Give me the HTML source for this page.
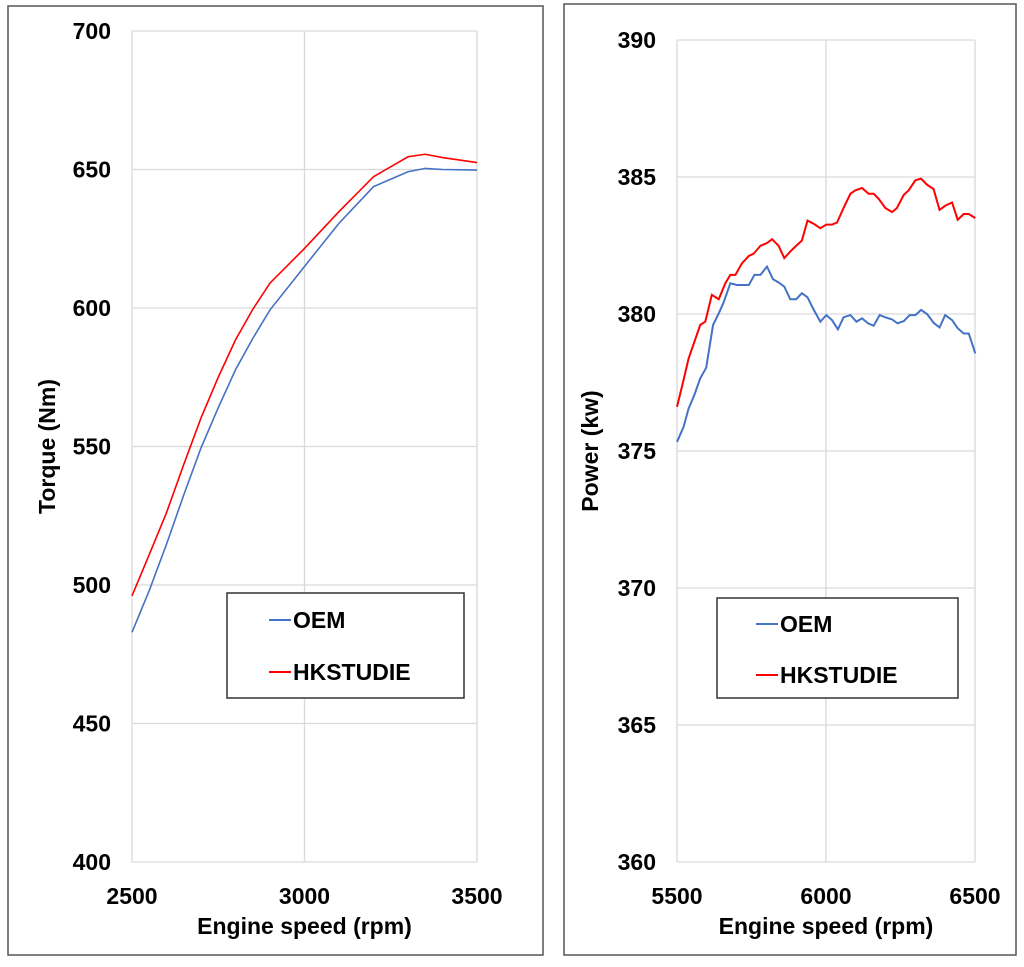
<!DOCTYPE html>
<html><head><meta charset="utf-8"><style>
body{margin:0;background:#fff;width:1024px;height:962px;overflow:hidden}
svg text{font-family:"Liberation Sans",Arial,sans-serif;font-weight:bold;fill:#000}
</style></head><body>
<svg id="c" width="1024" height="962" viewBox="0 0 1024 962" xmlns="http://www.w3.org/2000/svg">
<rect x="8" y="6" width="535" height="949" fill="#fff" stroke="#555" stroke-width="1.5"/>
<rect x="564" y="4" width="452" height="951" fill="#fff" stroke="#555" stroke-width="1.5"/>
<g id="left"></g><g id="right"></g>
</svg>
<script>
const torqueRpm=[2500,2550,2600,2650,2700,2750,2800,2850,2900,3000,3100,3200,3300,3350,3400,3500];
const torqueOEM=[482.9,498,514.7,532.5,549.5,564,577.7,589,599.3,615,630.6,643.8,649.2,650.4,650,649.8];
const torqueHK=[496.1,511,526.1,543.5,560.3,575,588.5,599.5,609,621.5,634.8,647.4,654.6,655.5,654.3,652.5];
const torqueYTicks=[400,450,500,550,600,650,700];
const torqueXTicks=[2500,3000,3500];
const powerRpm=[5500,5522,5539,5558,5578,5598,5621,5640,5656,5679,5701,5741,5760,5780,5802,5822,5841,5860,5880,5900,5919,5938,5959,5981,6001,6020,6040,6059,6082,6102,6121,6141,6160,6180,6199,6222,6240,6261,6281,6300,6319,6339,6361,6381,6400,6423,6442,6462,6479,6501];
const powerOEM=[375.33,375.88,376.55,377.04,377.65,378.04,379.6,380.02,380.41,381.12,381.06,381.06,381.43,381.43,381.73,381.27,381.15,381.0,380.54,380.54,380.76,380.61,380.15,379.72,379.96,379.78,379.44,379.88,379.96,379.72,379.84,379.66,379.57,379.96,379.88,379.8,379.66,379.74,379.96,379.96,380.15,380.0,379.68,379.51,379.96,379.78,379.48,379.29,379.29,378.56];
const powerHKRpm=[5500,5522,5539,5578,5595,5617,5640,5662,5679,5696,5718,5741,5757,5780,5802,5819,5841,5860,5880,5897,5919,5938,5959,5981,6001,6020,6037,6059,6082,6098,6121,6143,6160,6177,6199,6222,6238,6261,6277,6300,6319,6339,6361,6381,6400,6423,6442,6462,6479,6501];
const powerHK=[376.61,377.59,378.38,379.6,379.72,380.7,380.54,381.12,381.43,381.43,381.85,382.12,382.2,382.49,382.59,382.73,382.49,382.04,382.28,382.46,382.68,383.41,383.29,383.13,383.26,383.26,383.34,383.87,384.39,384.51,384.6,384.39,384.39,384.2,383.87,383.72,383.87,384.35,384.51,384.88,384.94,384.72,384.56,383.8,383.95,384.07,383.44,383.65,383.65,383.5];
const powerYTicks=[360,365,370,375,380,385,390];
const powerXTicks=[5500,6000,6500];
const NS='http://www.w3.org/2000/svg';
function mk(p,tag,a,name){const e=document.createElementNS(NS,tag);for(const k in a)e.setAttribute(k,a[k]);


p.appendChild(e);return e;}
function chart(g,o){
 const sx=v=>o.x0+(v-o.xmin)/(o.xmax-o.xmin)*(o.x1-o.x0);
 const sy=v=>o.y1-(v-o.ymin)/(o.ymax-o.ymin)*(o.y1-o.y0);
 o.yt.forEach(t=>{mk(g,'line',{x1:o.x0,x2:o.x1,y1:sy(t),y2:sy(t),stroke:'#d9d9d9','stroke-width':1.3},'y-gridline');
  const tx=mk(g,'text',{x:o.ylx,y:sy(t)+8,'text-anchor':'end','font-size':23},'y-tick-label');tx.textContent=t;});
 o.xt.forEach(t=>{mk(g,'line',{x1:sx(t),x2:sx(t),y1:o.y0,y2:o.y1,stroke:'#d9d9d9','stroke-width':1.3},'x-gridline');
  const tx=mk(g,'text',{x:sx(t),y:o.y1+42,'text-anchor':'middle','font-size':23},'x-tick-label');tx.textContent=t;});
 o.series.forEach(s=>{mk(g,'polyline',{points:s.x.map((v,i)=>sx(v)+','+sy(s.y[i])).join(' '),fill:'none',stroke:s.c,'stroke-width':s.w||1.6},s.name);});
 const xt=mk(g,'text',{x:(o.x0+o.x1)/2,y:o.y1+72,'text-anchor':'middle','font-size':23},'x-axis-title');xt.textContent='Engine speed (rpm)';
 const yt=mk(g,'text',{x:0,y:0,'text-anchor':'middle','font-size':23,transform:`translate(${o.ytx},${(o.y0+o.y1)/2}) rotate(-90)`},'y-axis-title');yt.textContent=o.ytitle;
 const L=o.leg;const lg=mk(g,'g',{},'legend');
 mk(lg,'rect',{x:L.x,y:L.y,width:L.w,height:L.h,fill:'#fff',stroke:'#333','stroke-width':1.5},'legend-box');
 o.series.forEach((s,i)=>{const yy=L.y+L.dy+i*L.gap;
  mk(lg,'line',{x1:L.lx,x2:L.lx+22,y1:yy,y2:yy,stroke:s.c,'stroke-width':2},'legend-swatch');
  const t=mk(lg,'text',{x:L.lx+24,y:yy+8,'font-size':23},'legend-entry');t.textContent=s.label;});
}
chart(document.getElementById('left'),{x0:132,x1:477,y0:31,y1:862,xmin:2500,xmax:3500,ymin:400,ymax:700,yt:torqueYTicks,xt:torqueXTicks,ylx:111,ytx:55,ytitle:'Torque (Nm)',
 series:[{x:torqueRpm,y:torqueOEM,c:'#4472c4',label:'OEM',name:'oem-torque-line'},{x:torqueRpm,y:torqueHK,c:'#ff0000',label:'HKSTUDIE',name:'hkstudie-torque-line'}],
 leg:{x:227,y:593,w:237,h:105,lx:269,dy:27,gap:52}});
chart(document.getElementById('right'),{x0:677,x1:975,y0:40,y1:862,xmin:5500,xmax:6500,ymin:360,ymax:390,yt:powerYTicks,xt:powerXTicks,ylx:656,ytx:598,ytitle:'Power (kw)',
 series:[{x:powerRpm,y:powerOEM,c:'#4472c4',label:'OEM',name:'oem-power-line',w:2},{x:powerHKRpm,y:powerHK,c:'#ff0000',label:'HKSTUDIE',name:'hkstudie-power-line',w:2}],
 leg:{x:717,y:598,w:241,h:100,lx:756,dy:26,gap:51}});
</script>
</body></html>
